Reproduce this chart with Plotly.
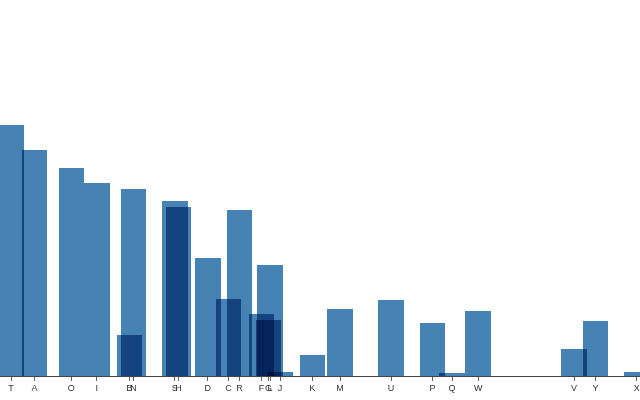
import plotly.graph_objects as go

# Letters shown on the x axis (left to right)
letters = ["T", "A", "O", "I", "B", "N", "S", "H", "D", "C", "R", "F", "G",
           "L", "J", "K", "M", "U", "P", "Q", "W", "V", "Y", "X"]

x_values = [11, 34.5, 71.3, 96.7, 129.3, 133.6, 174.8, 178.4, 207.7, 228.5,
            239.5, 261.6, 268.4, 270.1, 280.1, 312.3, 340, 391.1, 432.5, 452,
            478.2, 574.1, 595.4, 636.7]

# Letter frequency (%) -> bar heights
frequency = [9.056, 8.167, 7.507, 6.966, 1.492, 6.749, 6.327, 6.094, 4.253,
             2.782, 5.987, 2.228, 2.015, 4.025, 0.153, 0.772, 2.406, 2.758,
             1.929, 0.095, 2.360, 0.978, 1.974, 0.150]

BAR_WIDTH = 25.6

fig = go.Figure(
    go.Bar(
        x=x_values,
        y=frequency,
        width=BAR_WIDTH,
        marker=dict(color="steelblue", line=dict(width=0)),
        hoverinfo="skip",
    )
)

fig.update_layout(
    width=640,
    height=400,
    margin=dict(l=0, r=0, t=0, b=24, autoexpand=False),
    paper_bgcolor="white",
    plot_bgcolor="white",
    showlegend=False,
    bargap=0,
    xaxis=dict(
        range=[0, 640],
        automargin=False,
        tickmode="array",
        tickvals=x_values,
        ticktext=letters,
        ticks="outside",
        ticklen=4,
        tickwidth=1,
        tickcolor="#666",
        showline=True,
        linecolor="#444",
        linewidth=1,
        showgrid=False,
        zeroline=False,
        ticklabeloverflow="allow",
        ticklabelstandoff=-1,
        tickfont=dict(family="Liberation Sans, Arial, sans-serif", size=9, color="#333"),
        tickangle=0,
    ),
    yaxis=dict(
        range=[0, 13.58],
        visible=False,
        automargin=False,
        showgrid=False,
        zeroline=False,
    ),
)

post = """
document.body.style.margin = '0';
document.body.style.padding = '0';
document.body.style.overflow = 'hidden';
var gd = document.getElementById('{plot_id}');
gd.querySelectorAll('.bars .point path').forEach(function(p){
    p.style.mixBlendMode = 'multiply';
});
"""

fig.write_html("out.html", post_script=post, config={"displayModeBar": False})
